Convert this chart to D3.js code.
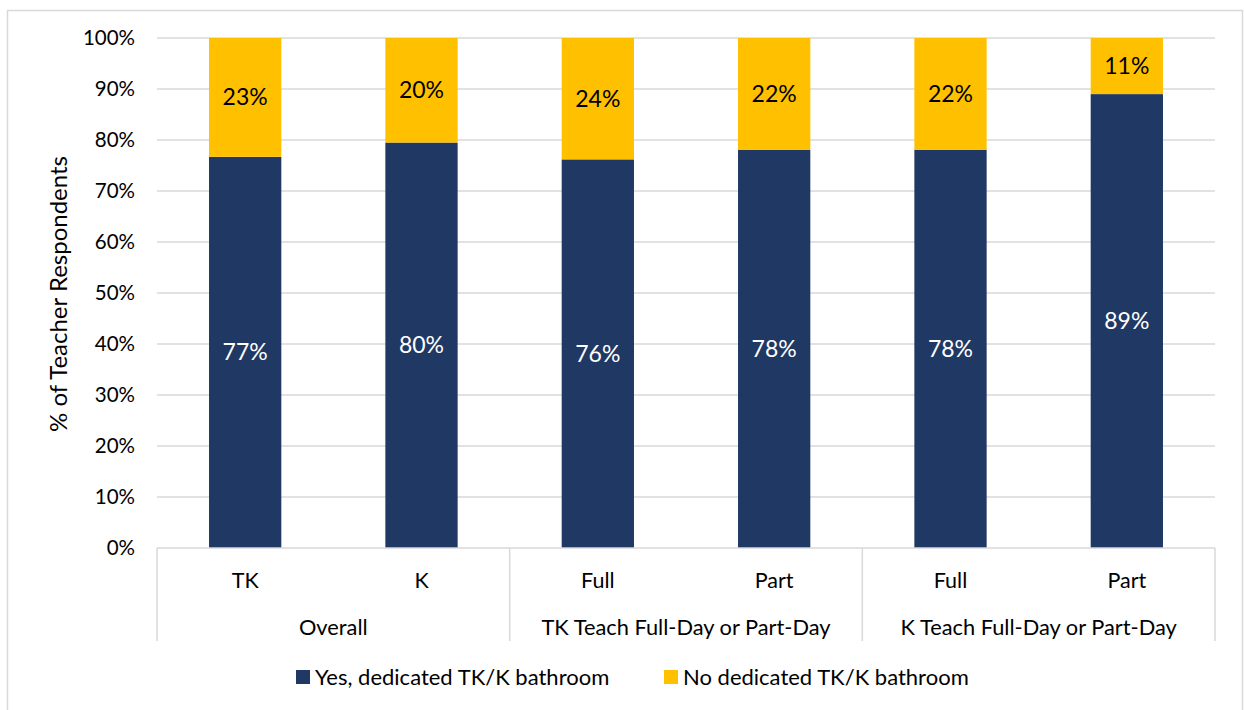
<!DOCTYPE html>
<html>
<head>
<meta charset="utf-8">
<script src="https://cdn.jsdelivr.net/npm/d3@7"></script>
<style>
  body{margin:0;background:#fff;}
  svg text{font-family:Lato,"Open Sans",sans-serif;}
</style>
</head>
<body>
<svg id="chart" width="1244" height="710"></svg>
<script>
// data
var groups     = ['Overall','TK Teach Full-Day or Part-Day','K Teach Full-Day or Part-Day'];
var categories = ['TK','K','Full','Part','Full','Part'];
var groupOf    = [0,0,1,1,2,2];
var yesValues  = [76.7,79.5,76.2,78.1,78.1,89.0];
var noValues   = [23.3,20.5,23.8,21.9,21.9,11.0];
var yesLabels  = ['77%','80%','76%','78%','78%','89%'];
var noLabels   = ['23%','20%','24%','22%','22%','11%'];
var yTicks     = [0,10,20,30,40,50,60,70,80,90,100];
var seriesNames = ['Yes, dedicated TK/K bathroom','No dedicated TK/K bathroom'];
var colors     = ['#203864','#FFC000'];

var svg = d3.select('#chart');
var m = {l:157, r:1215, t:38, b:548};

// outer border
svg.append('rect').attr('x',7.5).attr('y',10.5).attr('width',1235).attr('height',720)
  .attr('fill','none').attr('stroke','#d9d9d9').attr('stroke-width',1.5);

var idx = categories.map((c,i)=>i);
var x = d3.scaleBand().domain(idx).range([m.l,m.r]).paddingInner(0.59).paddingOuter(0.295);
var y = d3.scaleLinear().domain([0,100]).range([m.b,m.t]);

// grid
svg.append('g').selectAll('line').data(yTicks.filter(t=>t>0)).enter()
  .append('line').attr('x1',m.l).attr('x2',m.r)
  .attr('y1',d=>y(d)).attr('y2',d=>y(d))
  .attr('stroke','#d9d9d9').attr('stroke-width',1.5);

// y axis labels
var yAxis = svg.append('g').attr('transform','translate('+(m.l-22)+',0)')
  .call(d3.axisLeft(y).tickValues(yTicks).tickFormat(d=>d+'%').tickSize(0).tickPadding(0));
yAxis.select('.domain').remove();
yAxis.selectAll('text').attr('font-size',20.5).attr('fill','#000')
  .attr('font-family','Lato,sans-serif');

// y title
svg.append('text').attr('transform','translate(67,294) rotate(-90)')
  .attr('text-anchor','middle').attr('font-size',24).text('% of Teacher Respondents');

// bars
var bars = svg.append('g').selectAll('g').data(idx).enter().append('g');
bars.append('rect').attr('x',i=>x(i)).attr('width',x.bandwidth())
  .attr('y',i=>y(yesValues[i])).attr('height',i=>y(0)-y(yesValues[i]))
  .attr('fill',colors[0]);
bars.append('rect').attr('x',i=>x(i)).attr('width',x.bandwidth())
  .attr('y',i=>y(yesValues[i]+noValues[i])).attr('height',i=>y(yesValues[i])-y(yesValues[i]+noValues[i]))
  .attr('fill',colors[1]);
bars.append('text').attr('x',i=>x(i)+x.bandwidth()/2)
  .attr('y',i=>y(yesValues[i]/2)).attr('dy','0.35em')
  .attr('text-anchor','middle').attr('font-size',23).attr('fill','#fff')
  .text(i=>yesLabels[i]);
bars.append('text').attr('x',i=>x(i)+x.bandwidth()/2)
  .attr('y',i=>y(yesValues[i]+noValues[i]/2)).attr('dy','0.35em')
  .attr('text-anchor','middle').attr('font-size',23).attr('fill','#000')
  .text(i=>noLabels[i]);

// x axis
svg.append('line').attr('x1',m.l).attr('x2',m.r).attr('y1',m.b).attr('y2',m.b)
  .attr('stroke','#d9d9d9').attr('stroke-width',1.5);
var step = x.step();
var bounds = [0,2,4,6].map(k=>m.l+k*step);
svg.append('g').selectAll('line').data(bounds).enter().append('line')
  .attr('x1',d=>d).attr('x2',d=>d).attr('y1',m.b).attr('y2',641)
  .attr('stroke','#d9d9d9').attr('stroke-width',1.5);
svg.append('g').selectAll('text').data(idx).enter().append('text')
  .attr('x',i=>x(i)+x.bandwidth()/2).attr('y',580).attr('dy','0.35em')
  .attr('text-anchor','middle').attr('font-size',21.5).text(i=>categories[i]);
svg.append('g').selectAll('text').data(groups).enter().append('text')
  .attr('x',(g,k)=>(bounds[k]+bounds[k+1])/2).attr('y',627).attr('dy','0.35em')
  .attr('text-anchor','middle').attr('font-size',21.8).text(g=>g);

// legend
var legX = [296,664];
var leg = svg.append('g').selectAll('g').data(seriesNames).enter().append('g')
  .attr('transform',(d,i)=>'translate('+legX[i]+',670)');
leg.append('rect').attr('width',14).attr('height',14).attr('fill',(d,i)=>colors[i]);
leg.append('text').attr('x',19).attr('y',7).attr('dy','0.35em').attr('font-size',22).text(d=>d);
</script>
</body>
</html>
